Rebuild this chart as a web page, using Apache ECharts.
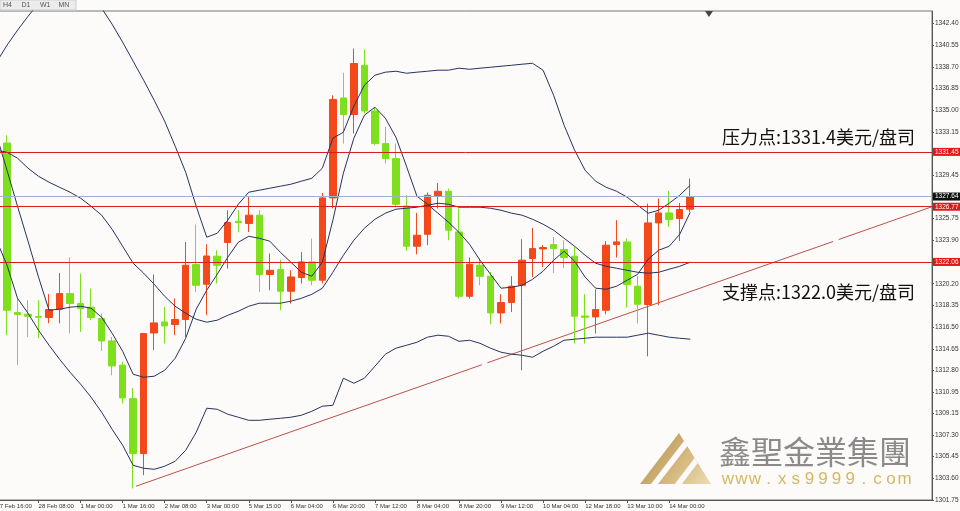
<!DOCTYPE html>
<html><head><meta charset="utf-8">
<script src="https://cdn.jsdelivr.net/npm/echarts@6/dist/echarts.min.js"></script>
<style>html,body{margin:0;padding:0;background:#fdfbfa}#c{width:960px;height:511px}</style>
</head><body><div id="c"></div>
<script>
// ---------- DATA ----------
const timeLabels = ['27 Feb 16:00','28 Feb 08:00','1 Mar 00:00','1 Mar 16:00','2 Mar 08:00','3 Mar 00:00','5 Mar 15:00','6 Mar 04:00','6 Mar 20:00','7 Mar 12:00','8 Mar 04:00','8 Mar 20:00','9 Mar 12:00','10 Mar 04:00','12 Mar 18:00','13 Mar 10:00','14 Mar 00:00'];
const labelStep = 4;          // one time label every 4 bars (H4)
const categoryCount = 90;     // bars visible in the window (incl. empty future space)
const firstCandle = 1;        // category index of first drawn candle

const candleOpen = [1332.21,1317.74,1317.60,1317.40,1317.32,1318.03,1319.36,1318.51,1318.20,1317.23,
1315.32,1313.25,1310.40,1305.71,1316.00,1316.94,1316.72,1317.15,1321.84,1320.16,
1322.55,1323.72,1325.53,1325.34,1326.05,1320.99,1321.41,1319.56,1320.73,1322.06,
1320.50,1327.52,1336.05,1334.64,1338.84,1334.94,1332.16,1330.88,1326.84,1323.40,
1324.42,1327.69,1328.09,1324.62,1319.13,1321.78,1320.84,1317.71,1318.60,1320.07,
1322.35,1323.17,1323.54,1323.12,1322.55,1317.45,1317.37,1317.94,1323.54,1323.77,
1319.99,1318.43,1325.39,1326.24,1325.76,1326.56];
const candleClose = [1317.94,1317.57,1317.43,1317.34,1318.00,1319.36,1318.51,1318.08,1317.32,1315.32,
1313.19,1310.46,1305.71,1315.95,1316.86,1316.60,1317.15,1321.78,1320.07,1322.57,
1321.78,1325.42,1325.41,1326.05,1320.99,1321.35,1319.56,1320.78,1322.06,1320.50,
1327.52,1335.92,1334.64,1338.99,1334.94,1332.16,1330.88,1326.98,1323.40,1324.34,
1327.75,1328.09,1324.77,1319.13,1321.86,1320.84,1317.71,1318.60,1319.99,1322.21,
1323.20,1323.29,1323.20,1322.44,1317.43,1317.34,1318.00,1323.49,1323.77,1320.13,
1318.45,1325.39,1326.24,1325.68,1326.53,1327.64];
const candleLow = [1315.81,1313.25,1315.66,1315.55,1316.83,1316.81,1315.95,1316.09,1317.09,1314.47,
1312.39,1309.98,1302.73,1303.86,1314.53,1315.10,1315.81,1315.66,1319.50,1317.51,
1320.22,1321.50,1324.59,1324.62,1319.50,1319.65,1317.94,1318.51,1320.22,1320.07,
1320.22,1326.62,1332.16,1333.02,1334.72,1332.02,1330.46,1326.73,1323.00,1322.72,
1323.49,1326.62,1323.91,1318.94,1318.94,1320.07,1316.74,1316.81,1317.79,1312.82,
1320.78,1321.63,1321.12,1321.55,1315.10,1315.10,1315.95,1317.60,1322.44,1318.17,
1316.81,1314.01,1318.37,1325.05,1323.85,1326.33];
const candleHigh = [1332.87,1318.99,1318.79,1318.79,1319.31,1321.12,1322.44,1321.07,1319.79,1317.66,
1315.66,1313.53,1311.31,1315.95,1320.99,1318.22,1318.94,1323.77,1325.25,1323.57,
1323.06,1326.47,1326.47,1327.69,1326.47,1322.78,1322.26,1321.35,1322.91,1324.06,
1327.95,1336.28,1338.19,1340.27,1340.18,1335.29,1333.58,1332.16,1327.75,1326.24,
1327.98,1328.80,1328.32,1326.62,1322.44,1322.35,1321.21,1319.31,1320.84,1324.00,
1324.96,1323.49,1324.19,1323.91,1323.34,1319.31,1319.73,1323.85,1325.62,1324.06,
1320.84,1327.04,1327.47,1328.12,1327.09,1329.18];

// indicator lines (start at category 0)
const upperBand = [1339.10,
1340.55,1341.83,1343.02,1344.13,1345.07,1345.58,1345.76,1345.58,1344.82,1343.71,
1342.34,1340.81,1339.19,1337.56,1335.86,1334.07,1331.93,1329.71,1326.81,1324.17,
1324.51,1325.62,1326.98,1328.01,1328.18,1328.35,1328.52,1328.69,1328.95,1329.20,
1330.06,1332.62,1333.13,1335.35,1337.14,1337.99,1338.25,1338.33,1338.16,1338.25,
1338.33,1338.42,1338.42,1338.59,1338.50,1338.59,1338.67,1338.76,1338.84,1338.93,
1339.01,1338.42,1336.28,1333.72,1331.59,1329.88,1328.95,1328.43,1328.09,1327.58,
1326.90,1326.22,1326.47,1327.07,1327.75,1328.61];
const middleBand = [1331.59,
1331.42,1330.91,1330.06,1329.37,1328.86,1328.43,1328.01,1327.50,1326.81,1326.05,
1324.85,1323.40,1321.95,1321.10,1320.16,1319.13,1318.28,1317.68,1317.17,1316.92,
1317.09,1317.51,1317.85,1318.28,1318.54,1318.54,1318.54,1318.71,1318.96,1319.30,
1319.82,1321.18,1322.63,1323.91,1324.94,1325.70,1326.22,1326.56,1326.64,1326.73,
1326.90,1327.07,1326.98,1326.73,1326.73,1326.73,1326.64,1326.47,1326.22,1326.05,
1325.70,1325.28,1324.77,1324.08,1323.40,1322.63,1321.95,1321.69,1321.52,1321.35,
1321.18,1321.10,1321.18,1321.44,1321.69,1322.04];
const lowerBand = [1323.91,
1321.78,1318.96,1317.68,1316.23,1314.95,1313.76,1312.65,1311.63,1310.52,1309.24,
1307.79,1306.42,1304.71,1304.46,1304.37,1304.63,1305.06,1305.99,1307.53,1309.58,
1309.49,1309.07,1308.81,1308.55,1308.55,1308.64,1308.72,1308.81,1308.98,1309.32,
1309.75,1309.83,1312.14,1311.71,1312.14,1313.16,1314.19,1314.70,1314.95,1315.21,
1315.64,1315.81,1315.72,1315.29,1315.38,1315.12,1314.70,1314.36,1314.19,1314.10,
1313.93,1314.44,1314.87,1315.38,1315.47,1315.55,1315.64,1315.64,1315.64,1315.64,
1315.81,1315.98,1315.81,1315.64,1315.55,1315.47];
const fastMA = [1332.87,
1329.88,1326.81,1323.83,1320.76,1317.94,1318.03,1318.20,1318.28,1318.11,1317.34,
1315.98,1314.44,1312.48,1312.22,1312.31,1312.82,1313.84,1315.55,1318.03,1319.65,
1321.01,1322.46,1323.74,1324.25,1324.08,1323.83,1322.89,1322.04,1321.18,1320.84,
1322.04,1325.62,1329.63,1332.62,1334.58,1335.26,1334.32,1332.70,1330.23,1327.67,
1326.98,1326.22,1325.45,1324.59,1323.57,1322.21,1321.01,1319.82,1319.90,1320.07,
1320.58,1321.27,1322.21,1322.97,1322.12,1320.76,1319.82,1319.73,1319.99,1320.50,
1321.01,1322.29,1323.06,1323.40,1324.42,1326.30];

// trend line (bar position, price): start, middle, end anchor, right edge
const trendX = [13, 46.43, 79.86, 89];
const trendY = [1302.84, 1313.37, 1323.89, 1326.77];

// horizontal price lines
const resistancePrice = 1331.45;
const pivotPrice = 1326.77;
const supportPrice = 1322.06;
const lastPrice = 1327.64;

// right axis tick labels
const yTickLabels = ['1342.40','1340.55','1338.70','1336.85','1335.00','1333.15','1329.45','1325.75','1323.90','1320.20','1318.35','1316.50','1314.65','1312.80','1310.95','1309.15','1307.30','1305.45','1303.60','1301.75'];
const yMin = 1301.75, yMax = 1343.47;

const resistanceText = '压力点:1331.4美元/盘司';
const supportText = '支撑点:1322.0美元/盘司';
const brandName = '鑫聖金業集團';
const brandUrl = 'www.xs9999.com';
const tabs = ['H4','D1','W1','MN'];

// ---------- CHART ----------
const UP = '#f2481a', DOWN = '#7ee01c', NAVY = '#27325e', HLINE = '#d42020', BG = '#fdfbfa';
const cats = [];
for (let k = 0; k < categoryCount; k++) {
  const li = k / labelStep;
  cats.push(k % labelStep === 0 && li < timeLabels.length ? timeLabels[li] : ('#' + k));
}
const isLabelIdx = (idx) => idx % labelStep === 0 && idx / labelStep < timeLabels.length;
const candleRows = candleOpen.map((o, i) => [i + firstCandle, o, candleClose[i], candleLow[i], candleHigh[i]]);
const yTickValues = yTickLabels.map(parseFloat);

const lineSeries = (data, z) => ({
  type: 'line', data, xAxisIndex: 0, yAxisIndex: 0, showSymbol: false, symbol: 'none',
  lineStyle: { color: NAVY, width: 1 }, silent: true, z, animation: false
});

const priceLabel = (bg) => ({
  show: true, position: 'end', distance: 1, formatter: (p) => p.value.toFixed(2),
  color: '#fff', backgroundColor: bg, fontSize: 6.5, fontFamily: 'Liberation Sans',
  padding: [1, 2, 0, 2]
});

const graphics = [];
// tab bar
graphics.push({ type: 'rect', shape: { x: 0, y: 0, width: 76, height: 10 }, style: { fill: '#ececec', stroke: '#cfcfcf', lineWidth: 1 }, silent: true });
tabs.forEach((t, i) => graphics.push({ type: 'text', x: 3 + i * 18.5, y: 5.5, style: { text: t, fill: '#555', font: '7px "Liberation Sans"', textVerticalAlign: 'middle' }, silent: true }));
// chart shift marker
graphics.push({ type: 'polygon', shape: { points: [[705, 11], [713, 11], [709, 17]] }, style: { fill: '#444' }, silent: true });
// annotations
graphics.push({ type: 'text', x: 722, y: 137, style: { text: resistanceText, fill: '#111', font: '18px "Noto Sans CJK SC"', textVerticalAlign: 'middle' }, silent: true });
graphics.push({ type: 'text', x: 722, y: 292, style: { text: supportText, fill: '#111', font: '18px "Noto Sans CJK SC"', textVerticalAlign: 'middle' }, silent: true });
// logo
graphics.push({ type: 'polygon', shape: { points: [[679, 433], [640, 484], [711, 484]] },
  style: { fill: new echarts.graphic.LinearGradient(0, 0, 1, 1, [{ offset: 0, color: '#b08b4c' }, { offset: 0.6, color: '#d6ba80' }, { offset: 1, color: '#ecdcb4' }]) }, silent: true });
graphics.push({ type: 'polygon', shape: { points: [[684, 441], [687.5, 446], [658, 484], [651, 484]] }, style: { fill: BG }, silent: true });
graphics.push({ type: 'polygon', shape: { points: [[694.7, 458], [697.8, 463], [681.8, 484], [674.8, 484]] }, style: { fill: BG }, silent: true });
graphics.push({ type: 'text', x: 719, y: 452, style: { text: brandName, fill: '#8a8a8a', font: '32px "Noto Sans CJK TC"', textVerticalAlign: 'middle' }, silent: true });
brandUrl.split('').forEach((ch, i) => graphics.push({ type: 'text', x: 721 + 13.6 * (i + 0.5), y: 479,
  style: { text: ch, fill: '#d2b862', font: '17px "Liberation Sans"', textAlign: 'center', textVerticalAlign: 'middle' }, silent: true }));

const option = {
  animation: false,
  backgroundColor: BG,
  grid: { left: -3.5, right: 28, top: 11, bottom: 11, containLabel: false, outerBoundsMode: 'none',
    show: true, borderColor: '#777', borderWidth: 1, backgroundColor: 'transparent' },
  xAxis: [
    { type: 'category', data: cats, boundaryGap: false,
      axisLine: { show: true, onZero: false, lineStyle: { color: '#555', width: 1 } },
      axisTick: { show: true, length: 3, interval: (idx) => isLabelIdx(idx), lineStyle: { color: '#555' } },
      axisLabel: { show: true, interval: (idx) => isLabelIdx(idx), formatter: (v, idx) => (isLabelIdx(idx) ? timeLabels[idx / labelStep] : ''),
        align: 'left', margin: 3, fontSize: 6, color: '#333', fontFamily: 'Liberation Sans' },
      splitLine: { show: false } },
    { type: 'value', min: 0, max: categoryCount - 1, show: false,
      axisLine: { show: false, onZero: false }, axisTick: { show: false }, axisLabel: { show: false }, splitLine: { show: false } }
  ],
  yAxis: {
    type: 'value', position: 'right', min: yMin, max: yMax,
    axisLine: { show: true, onZero: false, lineStyle: { color: '#555', width: 1 } },
    axisTick: { show: true, length: 2, customValues: yTickValues, lineStyle: { color: '#555' } },
    axisLabel: { show: true, customValues: yTickValues, margin: 3, fontSize: 6.5, color: '#333', fontFamily: 'Liberation Sans',
      formatter: (v) => { const i = yTickValues.indexOf(v); return i >= 0 ? yTickLabels[i] : v.toFixed(2); } },
    splitLine: { show: false }
  },
  graphic: { elements: graphics },
  series: [
    { type: 'line', name: 'trend', xAxisIndex: 1, yAxisIndex: 0, z: 1, silent: true,
      data: trendX.map((x, i) => ({ value: [x, trendY[i]], symbol: i < 3 ? 'emptyCircle' : 'none' })),
      symbolSize: 4, showSymbol: true, lineStyle: { color: '#b9514b', width: 1 },
      itemStyle: { color: BG, borderColor: '#b9514b', borderWidth: 1 },
      markLine: { silent: true, symbol: ['none', 'none'], animation: false,
        data: [
          { yAxis: lastPrice, lineStyle: { color: '#9fb2cc', width: 1, type: 'solid' }, label: priceLabel('#111') },
          { yAxis: resistancePrice, lineStyle: { color: HLINE, width: 1, type: 'solid' }, label: priceLabel('#e01818') },
          { yAxis: pivotPrice, lineStyle: { color: HLINE, width: 1, type: 'solid' }, label: priceLabel('#e01818') },
          { yAxis: supportPrice, lineStyle: { color: HLINE, width: 1, type: 'solid' }, label: priceLabel('#e01818') }
        ] } },
    { type: 'candlestick', xAxisIndex: 0, yAxisIndex: 0, z: 2, silent: true,
      data: candleRows, encode: { x: 0, y: [1, 2, 3, 4] }, barWidth: 7,
      itemStyle: { color: UP, color0: DOWN, borderColor: UP, borderColor0: DOWN, borderWidth: 1 } },
    lineSeries(upperBand, 3),
    lineSeries(middleBand, 3),
    lineSeries(lowerBand, 3),
    lineSeries(fastMA, 3)
  ]
};
const chart = echarts.init(document.getElementById('c'), null, { renderer: 'canvas' });
chart.setOption(option);
</script></body></html>
